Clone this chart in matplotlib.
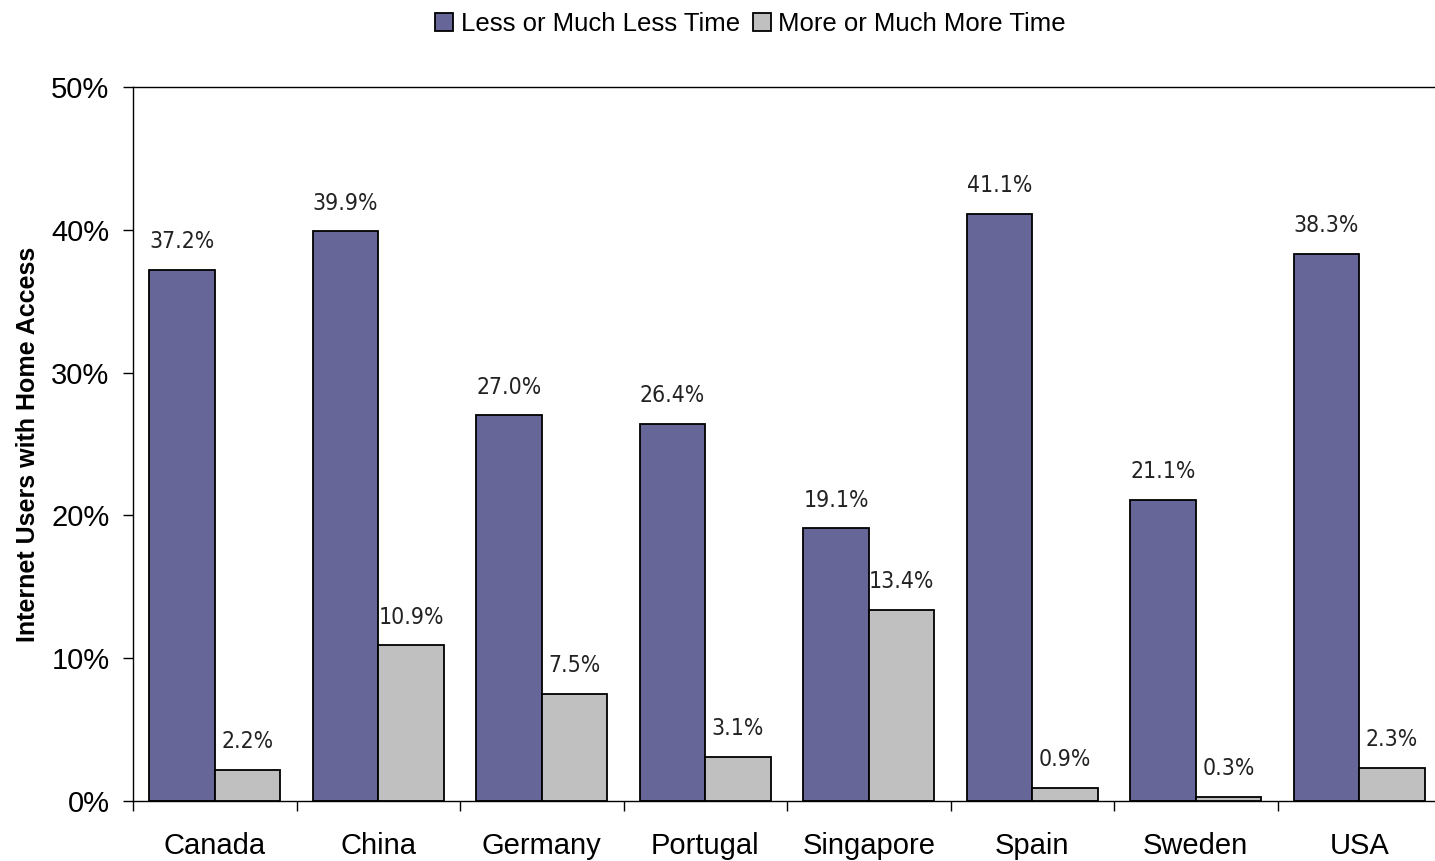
import matplotlib.pyplot as plt
import numpy as np
from matplotlib.ticker import FixedLocator, NullFormatter

countries = ['Canada', 'China', 'Germany', 'Portugal', 'Singapore', 'Spain', 'Sweden', 'USA']
less_time = [37.2, 39.9, 27.0, 26.4, 19.1, 41.1, 21.1, 38.3]
more_time = [2.2, 10.9, 7.5, 3.1, 13.4, 0.9, 0.3, 2.3]
y_ticks = [0, 10, 20, 30, 40, 50]

plt.rcParams['font.family'] = ['Liberation Sans', 'DejaVu Sans']

fig = plt.figure(figsize=(14.35, 8.61), dpi=100)
ax = fig.add_axes([133 / 1435, 1 - 801 / 861, (1441 - 133) / 1435, (801 - 87) / 861])

x = np.arange(len(countries))
w = 0.4
b1 = ax.bar(x - w / 2, less_time, w, color='#666699', edgecolor='black', linewidth=1.3,
            label='Less or Much Less Time')
b2 = ax.bar(x + w / 2, more_time, w, color='#C0C0C0', edgecolor='black', linewidth=1.3,
            label='More or Much More Time')

# value labels in a condensed font
for bars in (b1, b2):
    for rect in bars:
        h = rect.get_height()
        ax.annotate(f'{h:.1f}%', (rect.get_x() + rect.get_width() / 2, h),
                    xytext=(0, 12), textcoords='offset points', ha='center', va='bottom',
                    fontsize=16.5, color='#222222', family='DejaVu Sans',
                    fontstretch='condensed', fontweight='light')

ax.set_xlim(-0.5, len(countries) - 0.5)
ax.set_ylim(0, 50)
ax.set_yticks(y_ticks)
ax.set_yticklabels([f'{t}%' for t in y_ticks], fontsize=21)
ax.tick_params(axis='y', length=7, width=1, pad=10)

# category boundaries get the tick marks, names sit at the centres
ax.xaxis.set_major_locator(FixedLocator(np.arange(len(countries) + 1) - 0.5))
ax.xaxis.set_major_formatter(NullFormatter())
ax.xaxis.set_minor_locator(FixedLocator(x))
ax.set_xticklabels(countries, minor=True, fontsize=21)
ax.tick_params(axis='x', which='major', length=7, width=1)
ax.tick_params(axis='x', which='minor', length=0, pad=22)

for s in ax.spines.values():
    s.set_linewidth(1)

ax.set_ylabel('Internet Users with Home Access', fontsize=18, fontweight='bold', labelpad=8)

fig.legend(loc='upper center', bbox_to_anchor=(0.523, 1.013), ncol=2, frameon=False,
           fontsize=18.5, handlelength=0.7, handleheight=0.7, handletextpad=0.3,
           columnspacing=0.5)

fig.savefig('out.png', dpi=100)
plt.close(fig)
